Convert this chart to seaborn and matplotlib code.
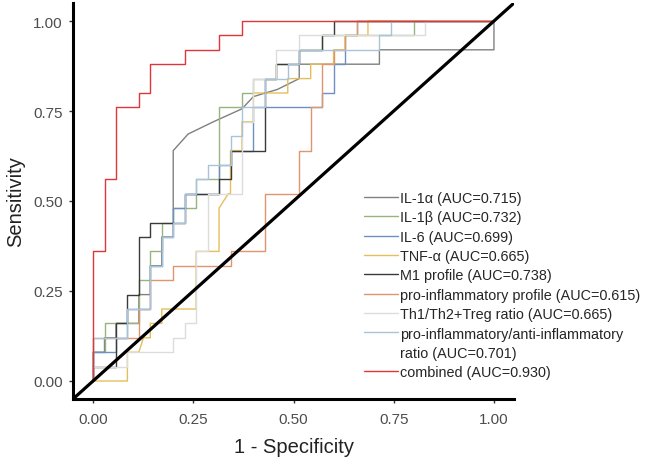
import matplotlib
matplotlib.use("Agg")
import matplotlib.pyplot as plt
from matplotlib.lines import Line2D
import pandas as pd
import seaborn as sns

# ROC steps: x in units of 1/35 (controls), y in units of 1/25 (cases)
N_CTRL = 35
N_CASE = 25

il1a_x = [0, 0, 1, 1, 2, 2, 4, 4, 5, 5, 6, 6, 7, 7, 8.3, 10.5, 13, 14, 16.1, 18, 18, 25, 25, 35, 35]
il1a_y = [0, 2, 2, 3, 3, 4, 4, 6, 6, 8, 8, 10, 10, 16, 17.15, 18, 18.9, 19.75, 20.25, 21, 22, 22, 23, 23, 25]

il1b_x = [0, 0, 1, 1, 4, 4, 5, 5, 6, 6, 7, 7, 9, 9, 11, 11, 13, 13, 14, 14, 16, 16, 18, 18, 20, 20, 28, 28, 35]
il1b_y = [0, 2, 2, 4, 4, 7, 7, 9, 9, 11, 11, 12, 12, 14, 14, 19, 19, 20, 20, 21, 21, 22, 22, 23, 23, 24, 24, 25, 25]

il6_x = [0, 0, 2, 2, 3, 3, 5, 5, 6, 6, 7, 7, 8, 8, 11, 11, 12, 12, 14, 14, 20, 20, 21, 21, 22, 22, 23, 23, 35]
il6_y = [0, 2, 2, 3, 3, 5, 5, 8, 8, 10, 10, 12, 12, 13, 13, 15, 15, 16, 16, 19, 19, 20, 20, 22, 22, 24, 24, 25, 25]

tnf_x = [0, 3, 3, 4, 4.4, 5, 5, 6, 6, 9, 9, 11, 11, 11.8, 12, 12, 13, 13, 14, 14, 17, 17, 19, 19, 21, 21, 22, 22, 24, 24, 35]
tnf_y = [0, 0, 2, 2, 3, 3, 4, 4, 5, 5, 9, 9, 12, 13, 13, 16, 16, 18, 18, 20, 20, 21, 21, 22, 22, 23, 23, 24, 24, 25, 25]

m1_x = [0, 0, 2, 2, 3, 3, 4, 4, 5, 5, 8, 8, 11, 11, 12, 12, 15, 15, 16, 16, 18, 18, 20, 20, 21, 21, 35]
m1_y = [0, 1, 1, 4, 4, 6, 6, 10, 10, 11, 11, 13, 13, 14, 14, 16, 16, 21, 21, 22, 22, 23, 23, 24, 24, 25, 25]

pro_x = [0, 0, 4, 4, 5, 5, 7, 7, 12, 12, 15, 15, 18, 18, 19, 19, 20, 20, 21, 21, 22, 22, 23, 23, 35]
pro_y = [0, 3, 3, 5, 5, 7, 7, 8, 8, 9, 9, 13, 13, 16, 16, 19, 19, 22, 22, 23, 23, 24, 24, 25, 25]

th_x = [0, 0, 3, 3, 7, 7, 8, 8, 9, 9, 10, 10, 13, 13, 14, 14, 16, 16, 18, 18, 29, 29, 35]
th_y = [0, 1, 1, 2, 2, 3, 3, 4, 4, 9, 9, 13, 13, 18, 18, 21, 21, 23, 23, 24, 24, 25, 25]

ratio_x = [0, 0, 3, 3, 5, 5, 6, 6, 7, 7, 8, 8, 9, 9, 10, 10, 12, 12, 13, 13, 15, 15, 17, 17, 18, 18, 25, 25, 26, 26, 35]
ratio_y = [0, 3, 3, 5, 5, 8, 8, 10, 10, 11, 11, 13, 13, 14, 14, 15, 15, 17, 17, 19, 19, 21, 21, 22, 22, 23, 23, 24, 24, 25, 25]

comb_x = [0, 0, 1, 1, 2, 2, 4, 4, 5, 5, 8, 8, 11, 11, 13, 13, 35]
comb_y = [0, 9, 9, 14, 14, 19, 19, 20, 20, 22, 22, 23, 23, 24, 24, 25, 25]

labels = ["IL-1α (AUC=0.715)", "IL-1β (AUC=0.732)", "IL-6 (AUC=0.699)",
          "TNF-α (AUC=0.665)", "M1 profile (AUC=0.738)",
          "pro-inflammatory profile (AUC=0.615)", "Th1/Th2+Treg ratio (AUC=0.665)",
          "pro-inflammatory/anti-inflammatory", "combined (AUC=0.930)"]
ratio_line2 = "ratio (AUC=0.701)"
colors = ["#808080", "#96b57c", "#6d8fc4", "#e3bf5c", "#3a3a3a",
          "#e0966c", "#dcdcdc", "#a9c3dc", "#e0353a"]

curves = [(il1a_x, il1a_y), (il1b_x, il1b_y), (il6_x, il6_y), (tnf_x, tnf_y),
          (m1_x, m1_y), (pro_x, pro_y), (th_x, th_y), (ratio_x, ratio_y), (comb_x, comb_y)]

frames = []
for lab, (xs, ys) in zip(labels, curves):
    frames.append(pd.DataFrame({"fpr": [v / N_CTRL for v in xs],
                                "tpr": [v / N_CASE for v in ys],
                                "curve": lab}))
df = pd.concat(frames, ignore_index=True)

sns.set_style("white")
plt.rcParams["font.family"] = ["Liberation Sans", "DejaVu Sans"]

fig = plt.figure(figsize=(6.46, 4.64), dpi=100)
ax = fig.add_axes([73 / 646, 1 - 400 / 464, 441 / 646, 396 / 464])

sns.lineplot(data=df, x="fpr", y="tpr", hue="curve", hue_order=labels,
             palette=dict(zip(labels, colors)), sort=False, estimator=None,
             linewidth=1.0, ax=ax)

ax.axline((0, 0), (1, 1), color="black", linewidth=2.3, zorder=5)

ax.set_xlim(-0.05, 1.05)
ax.set_ylim(-0.05, 1.05)
ticks = [0, 0.25, 0.5, 0.75, 1.0]
ax.set_xticks(ticks)
ax.set_yticks(ticks)
ax.set_xticklabels(["0.00", "0.25", "0.50", "0.75", "1.00"])
ax.set_yticklabels(["0.00", "0.25", "0.50", "0.75", "1.00"])
ax.tick_params(axis="both", length=3.2, width=1, color="#333333",
               labelcolor="#4d4d4d", labelsize=11, direction="out",
               bottom=True, left=True)
ax.tick_params(axis="x", pad=6)
ax.tick_params(axis="y", pad=4)

for s in ["top", "right"]:
    ax.spines[s].set_visible(False)
for s in ["left", "bottom"]:
    ax.spines[s].set_color("black")
    ax.spines[s].set_linewidth(2.2)

ax.set_xlabel("1 - Specificity", fontsize=14.5, color="#222222")
ax.set_ylabel("Sensitivity", fontsize=14.5, color="#222222")
ax.xaxis.set_label_coords(0.5, -0.095)
ax.yaxis.set_label_coords(-0.109, 0.5)

handles, labs = ax.get_legend_handles_labels()
handles = list(handles)
labs = list(labs)
k = labs.index("pro-inflammatory/anti-inflammatory")
handles.insert(k + 1, Line2D([], [], color="none"))
labs.insert(k + 1, ratio_line2)
ax.legend(handles, labs, loc="upper left", bbox_to_anchor=(0.659, 0.525),
          frameon=False, fontsize=10.4, handlelength=2.4, handletextpad=0.15,
          labelspacing=0.37, borderpad=0, borderaxespad=0)

fig.savefig("out.png", dpi=100)
